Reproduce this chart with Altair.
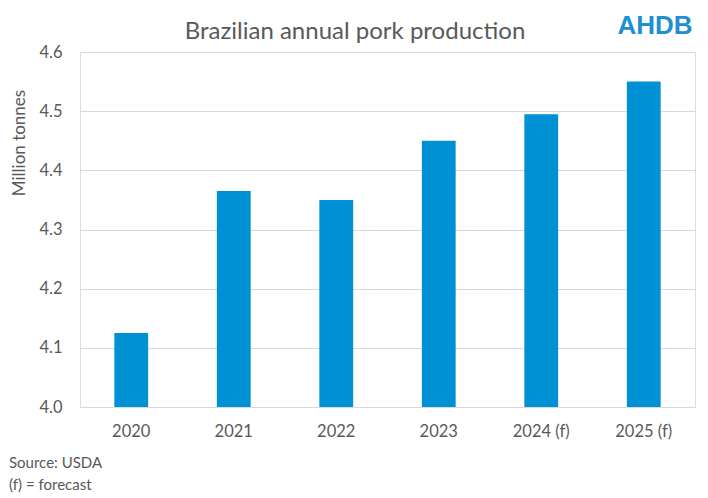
import altair as alt
import pandas as pd

years = ["2020", "2021", "2022", "2023", "2024 (f)", "2025 (f)"]
production = [4.125, 4.365, 4.35, 4.45, 4.495, 4.55]
y_ticks = [4.0, 4.1, 4.2, 4.3, 4.4, 4.5, 4.6]

title_text = "Brazilian annual pork production"
y_title = "Million tonnes"
source_line1 = "Source: USDA"
source_line2 = "(f) = forecast"
logo_text = "AHDB"

df = pd.DataFrame({"year": years, "value": production})

FONT = "Lato"
GREY = "#595959"
BLUE = "#0091d5"

W, H = 615, 355

bars = alt.Chart(df).mark_bar(color=BLUE, clip=True).encode(
    x=alt.X(
        "year:N",
        sort=years,
        scale=alt.Scale(paddingInner=0.67, paddingOuter=0.335),
        axis=alt.Axis(
            title=None, labelAngle=0, ticks=False, domain=False,
            labelFont=FONT, labelFontSize=16.5, labelColor=GREY, labelPadding=16,
        ),
    ),
    y=alt.Y(
        "value:Q",
        scale=alt.Scale(domain=[4.0, 4.6], zero=False, nice=False),
        axis=alt.Axis(
            title=None, values=y_ticks, format=".1f", ticks=False, domain=False,
            labelFont=FONT, labelFontSize=16.5, labelColor=GREY, labelPadding=18,
            gridColor="#d9d9d9", gridWidth=1,
        ),
    ),
)


def label(text, x, y, size, **kw):
    return alt.Chart(pd.DataFrame({"t": [text]})).mark_text(
        font=kw.pop("font", FONT), fontSize=size, color=kw.pop("color", GREY),
        baseline="middle", **kw
    ).encode(x=alt.value(x), y=alt.value(y), text="t:N")


title = label(title_text, 275, -20, 24, align="center")
ytitle = label(y_title, -60, 91, 17, align="center", angle=270)
src1 = label(source_line1, -71, 411, 15, align="left")
src2 = label(source_line2, -71, 433, 15, align="left")
logo = label(logo_text, 575, -26, 26, align="center", font="Liberation Sans",
             fontWeight="bold", color="#1f8fd1")

chart = alt.layer(bars, title, ytitle, src1, src2, logo).properties(
    width=W, height=H,
    autosize=alt.AutoSizeParams(type="none"),
    padding={"left": 72, "top": 44, "right": 5, "bottom": 88},
).configure_view(stroke=None).configure(background="white")

chart.save("out.html", embed_options={"renderer": "svg", "actions": False})
